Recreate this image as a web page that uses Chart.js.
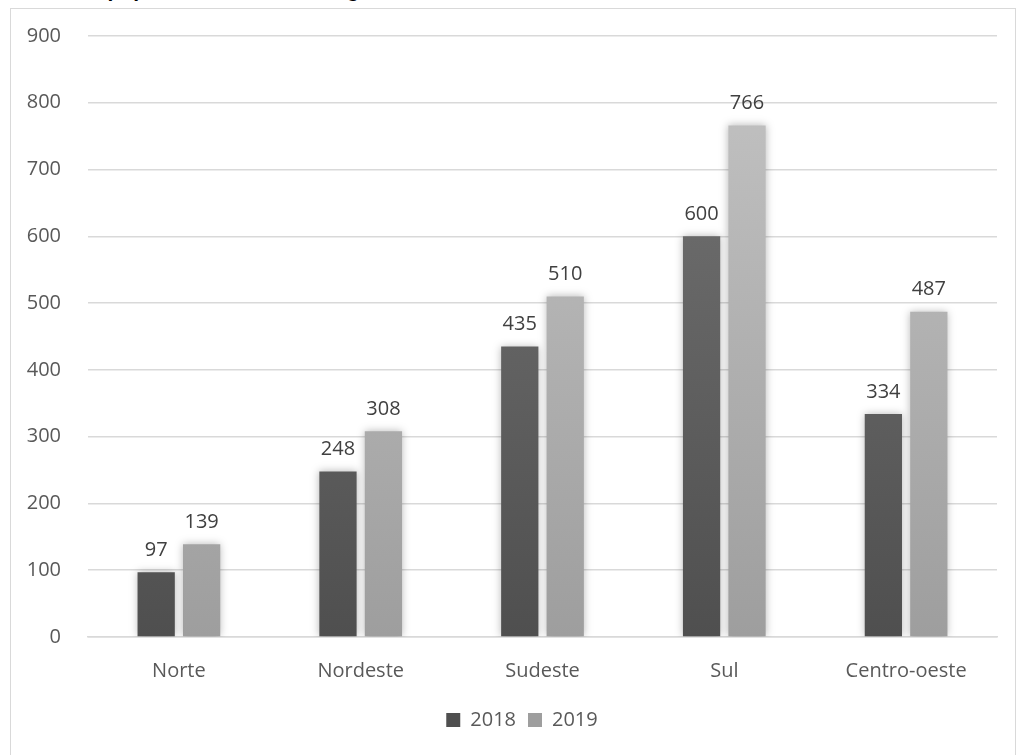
<!DOCTYPE html>
<html>
<head>
<meta charset="utf-8">
<script src="https://cdn.jsdelivr.net/npm/chart.js@4"></script>
<style>
  html, body { margin: 0; padding: 0; background: #fff; overflow: hidden; }
  body { width: 1021px; height: 755px; position: relative; }
  #title {
    position: absolute; left: 10px; top: -22px;
    font: bold 21px "Liberation Sans", Arial, sans-serif; color: #000; white-space: nowrap;
  }
  #frame {
    position: absolute; left: 10px; top: 8px; width: 1004px; height: 760px;
    border: 1px solid #d9d9d9; background: #fff;
  }
  #wrap { position: absolute; left: 0; top: 0; width: 1004px; height: 746px; }
</style>
</head>
<body>
<div id="title">Tamanho populacional de cada região do Brasil em 2018 e 2019</div>
<div id="frame"><div id="wrap"><canvas id="chart"></canvas></div></div>
<script>
const regions = ['Norte', 'Nordeste', 'Sudeste', 'Sul', 'Centro-oeste'];
const values2018 = [97, 248, 435, 600, 334];
const values2019 = [139, 308, 510, 766, 487];
const yTicks = [0, 100, 200, 300, 400, 500, 600, 700, 800, 900];

const FONT = '"Open Sans", "Liberation Sans", sans-serif';

// vertical gradient per bar, like the Excel look
function barFill(top, bottom) {
    return (context) => {
        const chart = context.chart;
        const area = chart.chartArea;
        if (!area) return bottom;
        const g = chart.ctx.createLinearGradient(0, area.top, 0, area.bottom);
        g.addColorStop(0, top);
        g.addColorStop(1, bottom);
        return g;
    };
}

// soft glow behind the bars
const barShadow = {
    id: 'barShadow',
    beforeDatasetDraw(chart) {
        const ctx = chart.ctx;
        ctx.save();
        ctx.shadowColor = 'rgba(0,0,0,0.28)';
        ctx.shadowBlur = 8;
        ctx.shadowOffsetX = 0;
        ctx.shadowOffsetY = 0;
    },
    afterDatasetDraw(chart) {
        chart.ctx.restore();
    }
};

// legend sits a little right of the canvas centre in the original
const legendShift = {
    id: 'legendShift',
    afterLayout(chart) {
        chart.legend.left += 18;
        chart.legend.right += 18;
    }
};

// value labels above each bar
const valueLabels = {
    id: 'valueLabels',
    afterDatasetsDraw(chart) {
        const ctx = chart.ctx;
        ctx.save();
        ctx.font = '20px ' + FONT;
        ctx.fillStyle = '#404040';
        ctx.textAlign = 'center';
        ctx.textBaseline = 'bottom';
        chart.data.datasets.forEach((ds, i) => {
            chart.getDatasetMeta(i).data.forEach((bar, j) => {
                ctx.fillText(ds.data[j], bar.x, bar.y - 12);
            });
        });
        ctx.restore();
    }
};

new Chart(document.getElementById('chart'), {
    type: 'bar',
    data: {
        labels: regions,
        datasets: [
            {
                label: '2018',
                data: values2018,
                backgroundColor: barFill('#767676', '#4f4f4f'),
                borderWidth: 0
            },
            {
                label: '2019',
                data: values2019,
                backgroundColor: barFill('#c4c4c4', '#9e9e9e'),
                borderWidth: 0
            }
        ]
    },
    options: {
        responsive: true,
        maintainAspectRatio: false,
        animation: false,
        datasets: { bar: { categoryPercentage: 0.5, barPercentage: 0.82 } },
        layout: { padding: { top: 27, right: 18, left: 0, bottom: 15 } },
        scales: {
            x: {
                afterFit: (scale) => { scale.height -= 7; },
                grid: { display: false, drawTicks: false },
                border: { display: true, color: '#d9d9d9', width: 1.5 },
                ticks: { color: '#595959', font: { family: FONT, size: 20 }, padding: 22 }
            },
            y: {
                min: 0, max: 900,
                afterBuildTicks: (scale) => { scale.ticks = yTicks.map(v => ({ value: v })); },
                afterFit: (scale) => {
                    scale.width = 77;
                    scale.paddingTop = 0;
                    scale.paddingBottom = 0;
                },
                grid: { color: '#d9d9d9', lineWidth: 1.5, drawTicks: false },
                border: { display: false },
                ticks: { color: '#595959', font: { family: FONT, size: 20 }, padding: 27 }
            }
        },
        plugins: {
            legend: {
                position: 'bottom',
                labels: {
                    boxWidth: 14, boxHeight: 14, padding: 12,
                    color: '#595959', font: { family: FONT, size: 20 }
                }
            },
            tooltip: { enabled: false }
        }
    },
    plugins: [barShadow, legendShift, valueLabels]
});
</script>
</body>
</html>
